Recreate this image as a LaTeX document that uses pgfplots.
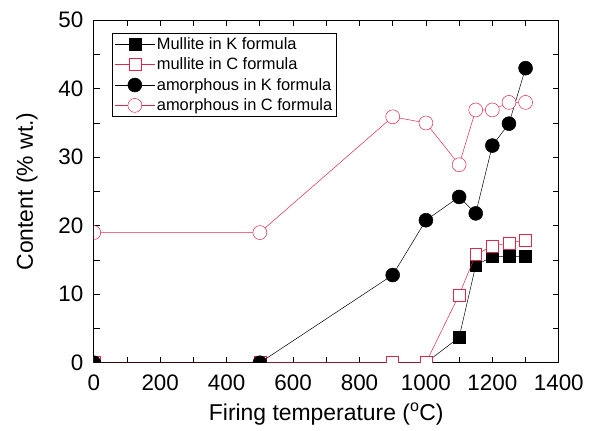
\documentclass[border={13pt 2pt 2pt 9pt}]{standalone}
\usepackage{fontspec}
\setmainfont{Liberation Sans}
\usepackage{pgfplots}
\pgfplotsset{compat=1.18}
\definecolor{cred}{RGB}{222,40,72}

\begin{document}
\begin{tikzpicture}
\begin{axis}[
    scale only axis,
    width=467pt, height=344pt,
    xmin=0, xmax=1400, ymin=0, ymax=50,
    xtick={0,200,...,1400}, minor x tick num=1,
    ytick={0,10,...,50}, minor y tick num=1,
    tick align=inside,
    major tick length=6pt, minor tick length=6pt,
    tick style={black, line width=0.8pt},
    axis line style={line width=1pt},
    /pgf/number format/assume math mode=true,
    /pgf/number format/1000 sep={},
    ticklabel style={font=\fontsize{22.5}{26}\selectfont},
    xticklabel style={yshift=-9pt},
    yticklabel style={xshift=-7pt},
    xlabel={Firing temperature (\textsuperscript{o}C)},
    ylabel={Content (\% wt.)},
    label style={font=\fontsize{23}{27}\selectfont},
    xlabel style={yshift=-5pt},
    ylabel style={yshift=14pt},
    clip marker paths=true,
    legend style={at={(0.04,0.962)}, anchor=north west,
        font=\fontsize{16.5}{18}\selectfont, draw=black, line width=0.8pt,
        row sep=3pt, inner xsep=2pt, inner ysep=2pt},
    legend cell align=left,
    legend image code/.code={
        \draw[#1, mark repeat=2, mark phase=2] plot coordinates {(0cm,0cm) (0.7cm,0cm) (1.4cm,0cm)};
    },
]
\addplot[black, line width=0.5pt, mark=square*, mark size=6pt, mark options={solid, fill=black}]
coordinates {(0,0) (500,0) (900,0) (1000,0) (1100,3.7) (1150,14.2) (1200,15.5) (1250,15.5) (1300,15.5)};
\addlegendentry{Mullite in K formula}
\addplot[cred, line width=0.5pt, mark=square*, mark size=6pt, mark options={solid, fill=white, draw=cred}]
coordinates {(0,0) (500,0) (900,0) (1000,0) (1100,9.9) (1150,15.8) (1200,17.0) (1250,17.5) (1300,17.9)};
\addlegendentry{mullite in C formula}
\addplot[black, line width=0.5pt, mark=*, mark size=7pt, mark options={solid, fill=black}]
coordinates {(0,0) (500,0) (900,12.8) (1000,20.8) (1100,24.2) (1150,21.8) (1200,31.7) (1250,34.9) (1300,43.0)};
\addlegendentry{amorphous in K formula}
\addplot[cred, line width=0.5pt, mark=*, mark size=7pt, mark options={solid, fill=white, draw=cred}]
coordinates {(0,19) (500,19) (900,35.9) (1000,35.0) (1100,28.9) (1150,36.9) (1200,36.9) (1250,38.0) (1300,38.0)};
\addlegendentry{amorphous in C formula}
\end{axis}
\end{tikzpicture}
\end{document}
